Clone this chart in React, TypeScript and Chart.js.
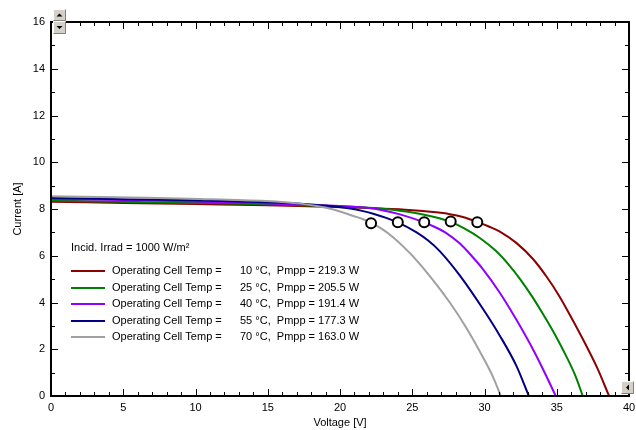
import React, { useEffect, useRef } from 'react';
import { Chart, registerables } from 'chart.js';

Chart.register(...registerables);

// ---- data ----
const temps = ['10', '25', '40', '55', '70'];
const pmpp = ['219.3', '205.5', '191.4', '177.3', '163.0'];
const colors = ['#8B0000', '#008000', '#8F00FF', '#000080', '#A0A0A0'];

const v10 = [0, 5, 10, 15, 18.4, 22, 24.5, 26.45, 27.6, 28.5, 29.5, 30.3, 31.06, 32.2, 33.37, 34.3, 35.2, 36.1, 37.0, 37.8, 38.62];
const i10 = [8.31, 8.26, 8.21, 8.16, 8.11, 8.04, 7.97, 7.87, 7.78, 7.66, 7.45, 7.25, 7.03, 6.55, 5.85, 5.1, 4.25, 3.25, 2.2, 1.2, 0];

const v25 = [0, 5, 10, 15, 18.4, 22, 24.15, 25.5, 26.45, 27.66, 28.6, 29.7, 30.8, 31.7, 32.5, 33.3, 34.1, 34.9, 35.7, 36.3, 36.8];
const i25 = [8.36, 8.31, 8.26, 8.2, 8.14, 8.05, 7.93, 7.8, 7.67, 7.45, 7.17, 6.75, 6.2, 5.6, 4.97, 4.25, 3.45, 2.6, 1.65, 0.85, 0];

const v40 = [0, 5, 10, 15, 18.4, 20, 21.85, 23.0, 24.15, 25.83, 26.6, 27.38, 28.3, 29.1, 29.9, 31.06, 32.2, 33.37, 34.1, 34.93];
const i40 = [8.43, 8.38, 8.32, 8.24, 8.16, 8.13, 8.05, 7.94, 7.77, 7.43, 7.22, 6.96, 6.52, 6.0, 5.42, 4.42, 3.27, 1.98, 1.08, 0];

const v55 = [0, 5, 10, 15, 17.24, 19.0, 20.7, 21.6, 22.3, 23.2, 24.0, 25.3, 26.1, 26.9, 28.3, 29.9, 31.06, 32.2, 33.07];
const i55 = [8.47, 8.42, 8.37, 8.29, 8.23, 8.15, 8.02, 7.91, 7.8, 7.62, 7.43, 7.0, 6.65, 6.2, 5.15, 3.72, 2.58, 1.3, 0];

const v70 = [0, 6.64, 10.3, 14.9, 16.2, 17.25, 18.4, 19.54, 20.93, 21.6, 22.15, 22.9, 23.69, 24.4, 25.07, 26.45, 27.6, 28.76, 29.9, 30.6, 31.13];
const i70 = [8.55, 8.48, 8.43, 8.34, 8.29, 8.23, 8.13, 7.98, 7.7, 7.56, 7.41, 7.15, 6.78, 6.38, 5.96, 4.95, 4.0, 2.9, 1.65, 0.8, 0];

const mppV = [29.5, 27.66, 25.83, 24.0, 22.15];
const mppI = [7.43, 7.47, 7.43, 7.43, 7.39];

const xTicks = [0, 5, 10, 15, 20, 25, 30, 35, 40];
const yTicks = [0, 2, 4, 6, 8, 10, 12, 14, 16];
const xMinorStep = 1;
const yMinorStep = 1;

const irradLabel = 'Incid. Irrad = 1000 W/m²';
const seriesLabel = 'Operating Cell Temp =';
const xTitle = 'Voltage [V]';
const yTitle = 'Current [A]';

const FONT = '"Liberation Sans", Arial, sans-serif';

const curvesV = [v10, v25, v40, v55, v70];
const curvesI = [i10, i25, i40, i55, i70];

function drawButton(ctx: CanvasRenderingContext2D, x: number, y: number, w: number, h: number, dir: string) {
  ctx.save();
  ctx.fillStyle = '#D4D0C8';
  ctx.fillRect(x, y, w, h);
  ctx.lineWidth = 1;
  ctx.strokeStyle = '#FFFFFF';
  ctx.beginPath();
  ctx.moveTo(x + 0.5, y + h - 0.5);
  ctx.lineTo(x + 0.5, y + 0.5);
  ctx.lineTo(x + w - 0.5, y + 0.5);
  ctx.stroke();
  ctx.strokeStyle = '#808080';
  ctx.beginPath();
  ctx.moveTo(x + w - 0.5, y + 0.5);
  ctx.lineTo(x + w - 0.5, y + h - 0.5);
  ctx.lineTo(x + 0.5, y + h - 0.5);
  ctx.stroke();
  ctx.fillStyle = '#000';
  const cx = x + w / 2;
  const cy = y + h / 2;
  ctx.beginPath();
  if (dir === 'up') {
    ctx.moveTo(cx - 3, cy + 1.5);
    ctx.lineTo(cx + 3, cy + 1.5);
    ctx.lineTo(cx, cy - 1.5);
  } else if (dir === 'down') {
    ctx.moveTo(cx - 3, cy - 1.5);
    ctx.lineTo(cx + 3, cy - 1.5);
    ctx.lineTo(cx, cy + 1.5);
  } else {
    ctx.moveTo(cx + 1.5, cy - 3);
    ctx.lineTo(cx + 1.5, cy + 3);
    ctx.lineTo(cx - 1.5, cy);
  }
  ctx.closePath();
  ctx.fill();
  ctx.restore();
}

const framePlugin = {
  id: 'framePlugin',
  afterDraw(chart: any) {
    const { ctx, chartArea: a, scales } = chart;
    const x = scales.x;
    const y = scales.y;
    ctx.save();
    ctx.strokeStyle = '#000';
    ctx.lineWidth = 1;
    const seg = (x1: number, y1: number, x2: number, y2: number) => {
      ctx.beginPath();
      ctx.moveTo(x1, y1);
      ctx.lineTo(x2, y2);
      ctx.stroke();
    };
    // x ticks (inward, bottom and top)
    for (let v = x.min; v <= x.max + 1e-9; v += xMinorStep) {
      const px = Math.round(x.getPixelForValue(v)) + 0.5;
      const major = xTicks.includes(v);
      const len = major ? 7 : 4;
      seg(px, a.bottom, px, a.bottom - len);
      seg(px, a.top, px, a.top + len);
    }
    // y ticks (inward, left and right)
    for (let v = y.min; v <= y.max + 1e-9; v += yMinorStep) {
      const py = Math.round(y.getPixelForValue(v)) + 0.5;
      const major = yTicks.includes(v);
      const len = major ? 7 : 4;
      seg(a.left, py, a.left + len, py);
      seg(a.right, py, a.right - len, py);
    }
    // frame
    ctx.lineWidth = 2;
    ctx.strokeRect(Math.round(a.left), Math.round(a.top), Math.round(a.right - a.left), Math.round(a.bottom - a.top));

    // axis titles
    ctx.fillStyle = '#000';
    ctx.font = '11px ' + FONT;
    ctx.textAlign = 'center';
    ctx.textBaseline = 'middle';
    ctx.fillText(xTitle, (a.left + a.right) / 2, 423);
    ctx.save();
    ctx.translate(18, (a.top + a.bottom) / 2);
    ctx.rotate(-Math.PI / 2);
    ctx.fillText(yTitle, 0, 0);
    ctx.restore();

    // legend
    ctx.textAlign = 'left';
    ctx.fillText(irradLabel, 71, 248);
    for (let i = 0; i < temps.length; i++) {
      const ly = 271 + i * 16.5;
      ctx.strokeStyle = colors[i];
      ctx.lineWidth = 2;
      seg(71, Math.round(ly), 105, Math.round(ly));
      ctx.fillStyle = '#000';
      ctx.fillText(seriesLabel, 112, ly);
      ctx.fillText(temps[i] + ' °C,  Pmpp = ' + pmpp[i] + ' W', 240, ly);
    }

    // scroll buttons
    drawButton(ctx, 53, 9, 13, 12, 'up');
    drawButton(ctx, 53, 21, 13, 13, 'down');
    drawButton(ctx, 621, 381, 13, 13, 'left');
    ctx.restore();
  },
};

export default function App() {
  const ref = useRef<HTMLCanvasElement | null>(null);

  useEffect(() => {
    if (!ref.current) return;
    const lineSets = curvesV.map((vs, k) => ({
      type: 'line' as const,
      label: temps[k],
      data: vs.map((v, j) => ({ x: v, y: curvesI[k][j] })),
      borderColor: colors[k],
      backgroundColor: colors[k],
      borderWidth: 2,
      pointRadius: 0,
      fill: false,
      cubicInterpolationMode: 'monotone' as const,
      order: 5 - k,
    }));
    const mppSet = {
      type: 'scatter' as const,
      label: 'MPP',
      data: mppV.map((v, j) => ({ x: v, y: mppI[j] })),
      pointStyle: 'circle',
      pointRadius: 5,
      pointBorderWidth: 2,
      borderColor: '#000',
      backgroundColor: '#fff',
      showLine: false,
      order: -1,
    };
    const chart = new Chart(ref.current, {
      type: 'line',
      data: { datasets: [...lineSets, mppSet] as any },
      options: {
        animation: false,
        responsive: false,
        devicePixelRatio: 1,
        layout: { padding: { top: 22, right: 4, left: 0, bottom: 0 } },
        plugins: { legend: { display: false }, tooltip: { enabled: false } },
        scales: {
          x: {
            type: 'linear',
            min: 0,
            max: 40,
            grid: { display: false, drawTicks: false },
            border: { display: false },
            ticks: { color: '#000', font: { size: 11, family: FONT }, padding: 5, maxRotation: 0 },
            afterBuildTicks: (s: any) => {
              s.ticks = xTicks.map((v) => ({ value: v }));
            },
            afterFit: (s: any) => {
              s.height = 34;
              s.paddingLeft = 0;
              s.paddingRight = 0;
            },
          },
          y: {
            type: 'linear',
            min: 0,
            max: 16,
            grid: { display: false, drawTicks: false },
            border: { display: false },
            ticks: { color: '#000', font: { size: 11, family: FONT }, padding: 6 },
            afterBuildTicks: (s: any) => {
              s.ticks = yTicks.map((v) => ({ value: v }));
            },
            afterFit: (s: any) => {
              s.width = 51;
              s.paddingTop = 0;
              s.paddingBottom = 0;
            },
          },
        },
      },
      plugins: [framePlugin],
    });
    return () => chart.destroy();
  }, []);

  return (
    <div style={{ position: 'fixed', left: 0, top: 0, width: 636, height: 430, background: '#fff' }}>
      <canvas ref={ref} width={636} height={430} style={{ display: 'block' }} />
    </div>
  );
}
